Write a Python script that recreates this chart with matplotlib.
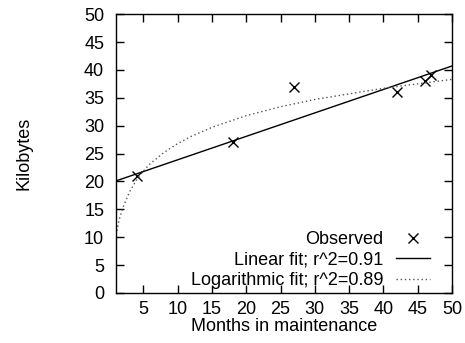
import numpy as np
import matplotlib
matplotlib.use("Agg")
import matplotlib.pyplot as plt

plt.rcParams['font.family'] = ['Liberation Sans', 'DejaVu Sans']
plt.rcParams['font.size'] = 13

# observed points
months = [4, 18, 27, 42, 46, 47]
kilobytes = [21, 27, 37, 36, 38, 39]

# linear fit, read at the axis ends
lin_x = [1, 50]
lin_y = [20.1, 40.7]

# logarithmic fit
log_x = [1, 1.5, 2, 3, 4, 5, 6, 8, 10, 12, 15, 20, 25, 30, 35, 40, 45, 50]
log_y = [10.4, 13.3, 15.3, 18.2, 20.3, 21.9, 23.2, 25.2, 26.8, 28.1, 29.7,
         31.8, 33.4, 34.7, 35.7, 36.7, 37.5, 38.3]

xticks = [5, 10, 15, 20, 25, 30, 35, 40, 45, 50]
yticks = [0, 5, 10, 15, 20, 25, 30, 35, 40, 45, 50]

fig = plt.figure(figsize=(4.65, 3.43), dpi=100)
ax = fig.add_axes([0.2495, 0.1458, 0.7225, 0.813])

ax.plot(months, kilobytes, 'x', color='black', ms=7, mew=1, label='Observed')
ax.plot(lin_x, lin_y, '-', color='black', lw=1, label='Linear fit; r^2=0.91')
ax.plot(log_x, log_y, color='#555555', lw=1, linestyle=(0, (1, 2)),
        label='Logarithmic fit; r^2=0.89')

ax.set_xlim(1, 50)
ax.set_ylim(0, 50)
ax.set_xticks(xticks)
ax.set_yticks(yticks)
ax.tick_params(direction='in', length=6, width=1, top=True, right=True,
               labelsize=13)
ax.tick_params(axis='x', pad=6)
ax.tick_params(axis='y', pad=8.5)
for s in ax.spines.values():
    s.set_linewidth(1)

ax.set_xlabel('Months in maintenance', labelpad=0)
ax.set_ylabel('Kilobytes', labelpad=37)

leg = ax.legend(loc='lower right', bbox_to_anchor=(0.945, 0.0),
                frameon=False, markerfirst=False,
                handlelength=1.85, handletextpad=0.72, labelspacing=0.2,
                borderaxespad=0.0, borderpad=0.2, fontsize=13)
for t in leg.get_texts():
    t.set_ha('right')

fig.savefig('out.png', dpi=100)
